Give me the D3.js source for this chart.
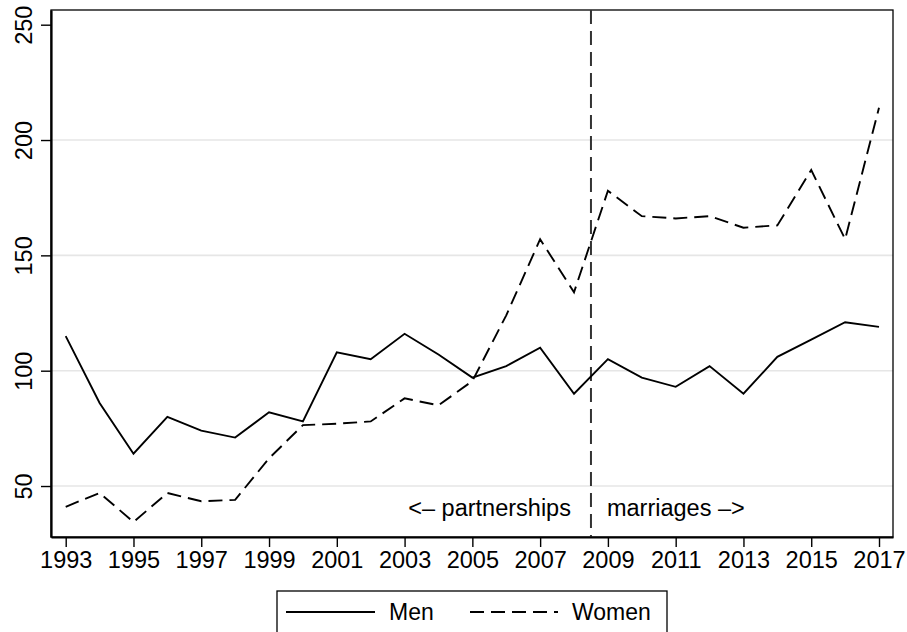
<!DOCTYPE html>
<html>
<head>
<meta charset="utf-8">
<script src="https://cdn.jsdelivr.net/npm/d3@7"></script>
<style>
  html, body { margin: 0; padding: 0; background: #fff; }
  svg { display: block; font-family: "Liberation Sans", Arial, Helvetica, sans-serif; }
</style>
</head>
<body>
<svg id="chart" width="907" height="632"></svg>
<script>
const years = [1993,1994,1995,1996,1997,1998,1999,2000,2001,2002,2003,2004,2005,2006,2007,2008,2009,2010,2011,2012,2013,2014,2015,2016,2017];
const men   = [115,86,64,80,74,71,82,78,108,105,116,107,97,102,110,90,105,97,93,102,90,106,113.5,121,119];
const women = [41,47,34.4,47,43.4,44,62,76.4,77,78,88,85,95.5,124,157,134,178,167,166,167,162,163,187,157,214];
const xTicks = [1993,1995,1997,1999,2001,2003,2005,2007,2009,2011,2013,2015,2017];
const yTicks = [50,100,150,200,250];
const gridValues = [50,100,150,200];
const cutYear = 2008.5;
const leftNote = "<\u2013 partnerships";
const rightNote = "marriages \u2013>";
const seriesNames = ["Men", "Women"];

const svg = d3.select("#chart");
const L = 51, R = 893, T = 10, B = 537;
const x = d3.scaleLinear().domain([1992.566, 2017.413]).range([L, R]);
const y = d3.scaleLinear().domain([27.9, 256.37]).range([B, T]);

// gridlines
svg.append("g").selectAll("line").data(gridValues).join("line")
  .attr("x1", L).attr("x2", R)
  .attr("y1", d => y(d)).attr("y2", d => y(d))
  .attr("stroke", "#e6e6e6").attr("stroke-width", 1.6);

// frame (top/right)
svg.append("rect").attr("x", L).attr("y", T).attr("width", R - L).attr("height", B - T)
  .attr("fill", "none").attr("stroke", "#000").attr("stroke-width", 1.3);

// vertical cut line
svg.append("line")
  .attr("x1", x(cutYear)).attr("x2", x(cutYear))
  .attr("y1", T).attr("y2", B)
  .attr("stroke", "#333").attr("stroke-width", 2)
  .attr("stroke-dasharray", "14,7");

// lines
const line = d3.line().x((d, i) => x(years[i])).y(d => y(d));
svg.append("path").datum(men).attr("d", line)
  .attr("fill", "none").attr("stroke", "#000").attr("stroke-width", 1.9)
  .attr("stroke-linejoin", "miter");
svg.append("path").datum(women).attr("d", line)
  .attr("fill", "none").attr("stroke", "#000").attr("stroke-width", 1.9)
  .attr("stroke-dasharray", "14,7");

// x axis
const gx = svg.append("g").attr("transform", `translate(0,${B})`)
  .call(d3.axisBottom(x).tickValues(xTicks).tickFormat(d3.format("d")).tickSize(10).tickSizeOuter(0).tickPadding(7));
gx.select(".domain").attr("stroke", "#000").attr("stroke-width", 2.2);
gx.selectAll(".tick line").attr("stroke", "#000").attr("stroke-width", 1.4);
gx.selectAll(".tick text").attr("font-size", "23.5px").attr("fill", "#000")
  .attr("font-family", "Liberation Sans, Arial, sans-serif")
  .attr("y", 31).attr("dy", 0);

// y axis
const gy = svg.append("g").attr("transform", `translate(${L},0)`)
  .call(d3.axisLeft(y).tickValues(yTicks).tickSize(10).tickSizeOuter(0));
gy.select(".domain").attr("stroke", "#000").attr("stroke-width", 2.2);
gy.selectAll(".tick line").attr("stroke", "#000").attr("stroke-width", 1.4);
gy.selectAll(".tick text").attr("font-size", "23.5px").attr("fill", "#000")
  .attr("font-family", "Liberation Sans, Arial, sans-serif")
  .attr("transform", "rotate(-90)")
  .attr("x", 0).attr("y", -19.5).attr("dy", 0)
  .attr("text-anchor", "middle");

// annotations
svg.append("text").attr("x", x(cutYear) - 20).attr("y", 516)
  .attr("text-anchor", "end").attr("font-size", "23.5px").attr("fill", "#000")
  .text(leftNote);
svg.append("text").attr("x", x(cutYear) + 16).attr("y", 516)
  .attr("text-anchor", "start").attr("font-size", "23.5px").attr("fill", "#000")
  .text(rightNote);

// legend
const lg = svg.append("g");
lg.append("rect").attr("x", 277).attr("y", 591).attr("width", 390).attr("height", 60)
  .attr("fill", "#fff").attr("stroke", "#000").attr("stroke-width", 1.3);
const ly = 612;
lg.append("line").attr("x1", 286).attr("x2", 375).attr("y1", ly).attr("y2", ly)
  .attr("stroke", "#000").attr("stroke-width", 1.9);
lg.append("text").attr("x", 389).attr("y", ly + 8).attr("font-size", "23px").text(seriesNames[0]);
lg.append("line").attr("x1", 470).attr("x2", 558).attr("y1", ly).attr("y2", ly)
  .attr("stroke", "#000").attr("stroke-width", 1.9).attr("stroke-dasharray", "14,7");
lg.append("text").attr("x", 572).attr("y", ly + 8).attr("font-size", "23px").text(seriesNames[1]);
</script>
</body>
</html>
